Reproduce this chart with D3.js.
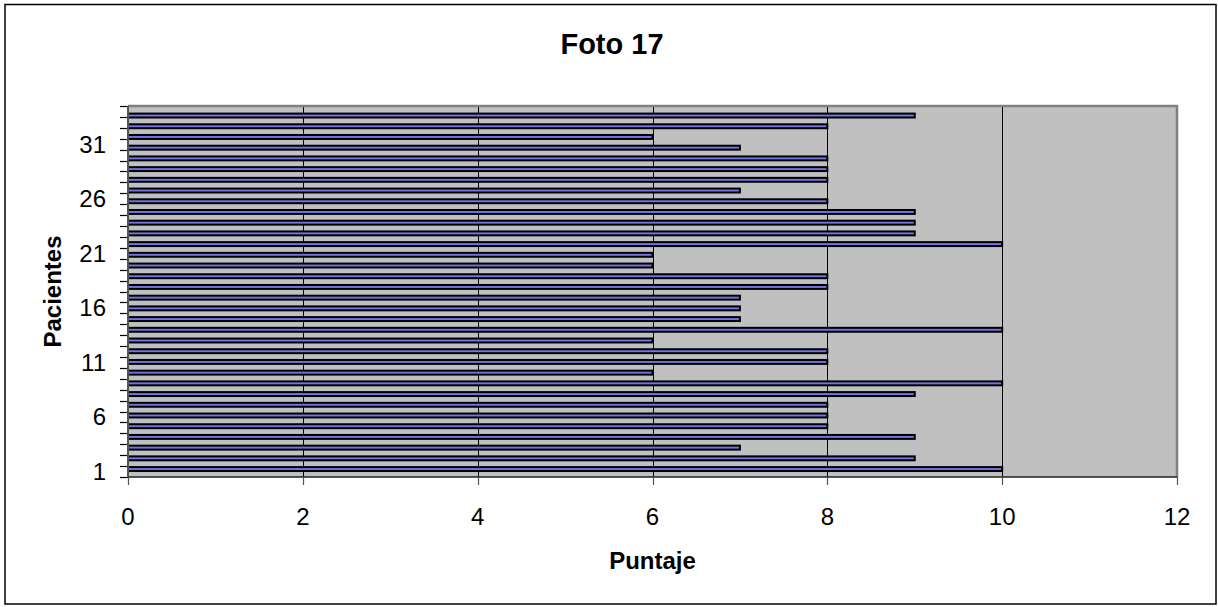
<!DOCTYPE html>
<html>
<head>
<meta charset="utf-8">
<script src="https://cdn.jsdelivr.net/npm/d3@7"></script>
<style>
  html, body { margin: 0; padding: 0; background: #fff; }
  svg { display: block; font-family: "Liberation Sans", Arial, sans-serif; }
</style>
</head>
<body>
<svg id="chart" width="1218" height="607"></svg>
<script>
// Patients (category axis) and their scores
const patients = ["1","2","3","4","5","6","7","8","9","10","11","12","13","14","15","16","17",
                  "18","19","20","21","22","23","24","25","26","27","28","29","30","31","32","33","34"];
const scores = [10, 9, 7, 9, 8, 8, 8, 9, 10, 6, 8, 8, 6, 10, 7, 7, 7,
                8, 8, 6, 6, 10, 9, 9, 9, 8, 7, 8, 8, 8, 7, 6, 8, 9];
const patientLabels = ["1","6","11","16","21","26","31"];
const scoreTicks = [0, 2, 4, 6, 8, 10, 12];

const svg = d3.select("#chart");

// Plot area
const plot = { left: 128, right: 1177, top: 106, bottom: 477 };

const x = d3.scaleLinear().domain([0, 12]).range([plot.left, plot.right]);
const y = d3.scaleBand().domain(patients).range([plot.bottom, plot.top]);
const yBar = d3.scaleBand().domain(patients).range([plot.bottom + 0.8, plot.top + 0.8]).padding(0.633);

// Outer chart frame
svg.append("rect")
  .attr("x", 5).attr("y", 4.5).attr("width", 1211).attr("height", 599.5)
  .attr("fill", "#fff").attr("stroke", "#000").attr("stroke-width", 1.5);

// Plot background
svg.append("rect")
  .attr("x", plot.left).attr("y", plot.top)
  .attr("width", plot.right - plot.left).attr("height", plot.bottom - plot.top)
  .attr("fill", "#c0c0c0");

// Vertical gridlines
svg.append("g")
  .selectAll("line")
  .data(scoreTicks.filter(d => d > 0 && d < 12))
  .join("line")
  .attr("x1", d => Math.round(x(d)) + 0.5).attr("x2", d => Math.round(x(d)) + 0.5)
  .attr("y1", plot.top).attr("y2", plot.bottom)
  .attr("stroke", "#000").attr("stroke-width", 1);

// Plot border (top and right in grey)
svg.append("path")
  .attr("d", `M${plot.left},${plot.top} H${plot.right} V${plot.bottom}`)
  .attr("fill", "none").attr("stroke", "#808080").attr("stroke-width", 2.5);

// Bars
svg.append("g")
  .selectAll("rect")
  .data(patients.map((p, i) => ({ p, v: scores[i] })))
  .join("rect")
  .attr("x", x(0))
  .attr("y", d => yBar(d.p))
  .attr("width", d => x(d.v) - x(0))
  .attr("height", yBar.bandwidth())
  .attr("fill", "#7474e4")
  .attr("stroke", "#000")
  .attr("stroke-width", 2);

// Category axis: ticks at band boundaries
const boundaries = patients.map(p => y(p) + y.bandwidth()).concat([plot.top]);
svg.append("g")
  .selectAll("line")
  .data(boundaries)
  .join("line")
  .attr("x1", plot.left - 8).attr("x2", plot.left)
  .attr("y1", d => Math.round(d) + 0.5).attr("y2", d => Math.round(d) + 0.5)
  .attr("stroke", "#000").attr("stroke-width", 1.2);

svg.append("line")
  .attr("x1", plot.left).attr("x2", plot.left)
  .attr("y1", plot.top).attr("y2", plot.bottom)
  .attr("stroke", "#555").attr("stroke-width", 2);

svg.append("g")
  .selectAll("text")
  .data(patientLabels)
  .join("text")
  .attr("x", 106)
  .attr("y", d => y(d) + y.bandwidth() / 2 + 8.5)
  .attr("text-anchor", "end")
  .attr("font-size", 24)
  .attr("fill", "#000")
  .text(d => d);

// Value axis
svg.append("line")
  .attr("x1", plot.left).attr("x2", plot.right)
  .attr("y1", plot.bottom).attr("y2", plot.bottom)
  .attr("stroke", "#222").attr("stroke-width", 1.5);

svg.append("g")
  .selectAll("line")
  .data(scoreTicks)
  .join("line")
  .attr("x1", d => Math.round(x(d)) + 0.5).attr("x2", d => Math.round(x(d)) + 0.5)
  .attr("y1", plot.bottom).attr("y2", plot.bottom + 8)
  .attr("stroke", "#555").attr("stroke-width", 1.2);

svg.append("g")
  .selectAll("text")
  .data(scoreTicks)
  .join("text")
  .attr("x", d => x(d))
  .attr("y", 525)
  .attr("text-anchor", "middle")
  .attr("font-size", 24)
  .attr("fill", "#000")
  .text(d => d);

// Titles
svg.append("text")
  .attr("x", 612).attr("y", 54)
  .attr("text-anchor", "middle")
  .attr("font-size", 29).attr("font-weight", "bold")
  .text("Foto 17");

svg.append("text")
  .attr("x", (plot.left + plot.right) / 2).attr("y", 569)
  .attr("text-anchor", "middle")
  .attr("font-size", 24).attr("font-weight", "bold")
  .text("Puntaje");

svg.append("text")
  .attr("transform", `translate(61,${(plot.top + plot.bottom) / 2}) rotate(-90)`)
  .attr("text-anchor", "middle")
  .attr("font-size", 24).attr("font-weight", "bold")
  .text("Pacientes");
</script>
</body>
</html>
